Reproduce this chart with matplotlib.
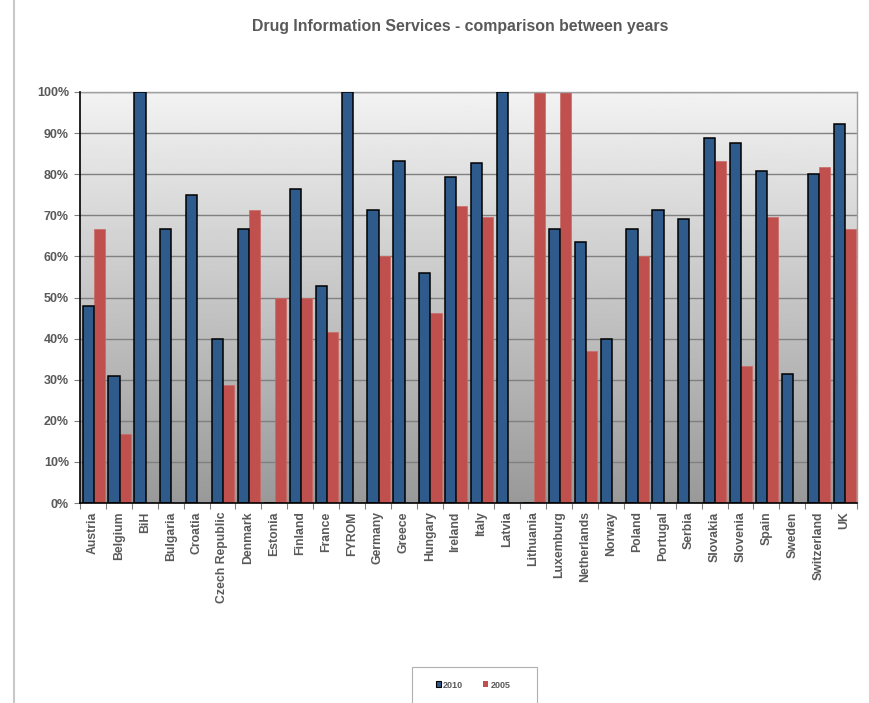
import numpy as np
import matplotlib
matplotlib.use("Agg")
import matplotlib.pyplot as plt
from matplotlib.patches import Rectangle, Patch
from matplotlib.lines import Line2D

countries = ["Austria", "Belgium", "BiH", "Bulgaria", "Croatia", "Czech Republic",
             "Denmark", "Estonia", "Finland", "France", "FYROM", "Germany", "Greece",
             "Hungary", "Ireland", "Italy", "Latvia", "Lithuania", "Luxemburg",
             "Netherlands", "Norway", "Poland", "Portugal", "Serbia", "Slovakia",
             "Slovenia", "Spain", "Sweden", "Switzerland", "UK"]
values_2010 = [48.0, 30.8, 100, 66.7, 75.0, 40.0, 66.7, 0, 76.5, 52.9, 100, 71.4,
               83.3, 55.9, 79.2, 82.8, 100, 0, 66.7, 63.6, 40.0, 66.7, 71.4, 69.2,
               88.7, 87.5, 80.8, 31.3, 80.0, 92.3]
values_2005 = [66.7, 16.7, 0, 0, 0, 28.6, 71.4, 50.0, 50.0, 41.7, 0, 60.0, 0,
               46.2, 72.2, 69.6, 0, 100, 100, 36.9, 0, 60.0, 0, 0, 83.3, 33.3,
               69.6, 0, 81.8, 66.7]
series_names = ["2010", "2005"]
yticks = list(range(0, 101, 10))

plt.rcParams['font.family'] = ['Liberation Sans', 'DejaVu Sans']

W, H = 869, 703
fig = plt.figure(figsize=(W / 100, H / 100), dpi=100)
fig.patch.set_facecolor('white')

x0, x1, yb, yt = 80, 857, 503, 92
ax = fig.add_axes([x0 / W, 1 - yb / H, (x1 - x0) / W, (yb - yt) / H])

n = len(countries)
x = np.arange(n)
bw = 0.43
blue = '#2E5B8C'
red = '#C0504D'
txt = '#595959'

# gradient background
grad = np.linspace(0.60, 0.95, 256).reshape(-1, 1)
ax.imshow(grad, extent=(-0.5, n - 0.5, 0, 100), origin='lower', aspect='auto',
          cmap='gray', vmin=0, vmax=1, zorder=0)

for v in yticks[1:]:
    ax.axhline(v, color='#808080', lw=1.0, zorder=1)

ax.bar(x - bw / 2 + 0.03, values_2010, width=bw, color=blue, edgecolor='black',
       linewidth=1.1, zorder=3)
ax.bar(x + bw / 2 + 0.03, values_2005, width=bw, color=red, edgecolor='#cc6a67',
       linewidth=0.5, zorder=2)

ax.set_xlim(-0.5, n - 0.5)
ax.set_ylim(0, 100)
ax.set_yticks(yticks)
ax.set_yticklabels([f"{v}%" for v in yticks], fontsize=9, fontweight='bold', color=txt)
ax.set_xticks(x)
ax.set_xticklabels(countries, rotation=90, fontsize=8.8, fontweight='bold', color=txt)
ax.set_xticks(np.arange(-0.5, n, 1), minor=True)
ax.tick_params(axis='x', which='major', length=0, pad=6)
ax.tick_params(axis='x', which='minor', length=4, color='#808080', width=0.8)
ax.tick_params(axis='y', length=4, color='#808080', width=0.8, pad=4)

for s in ['left', 'bottom']:
    ax.spines[s].set_color('black')
    ax.spines[s].set_linewidth(1.2)
    ax.spines[s].set_zorder(5)
for s in ['top', 'right']:
    ax.spines[s].set_color('#a0a0a0')
    ax.spines[s].set_linewidth(1.0)

fig.text(460 / W, 1 - 27 / H, "Drug Information Services - comparison between years",
         ha='center', va='center', fontsize=11.4, fontweight='bold', color=txt)

# outer border line on left
fig.add_artist(Line2D([14.5 / W, 14.5 / W], [0, 1], color='#c8c8c8', lw=1.5))

# legend box
fig.add_artist(Rectangle((412 / W, -0.02), 125 / W, (703 - 667) / H + 0.02,
                         transform=fig.transFigure, facecolor='white',
                         edgecolor='#b0b0b0', lw=0.8))
handles = [Patch(facecolor=blue, edgecolor='black', linewidth=0.8),
           Patch(facecolor=red, edgecolor='none')]
leg = fig.legend(handles, series_names, loc='center', bbox_to_anchor=(473 / W, 1 - 685 / H),
                 ncol=2, frameon=False, handlelength=0.6, handleheight=0.6,
                 handletextpad=0.2, columnspacing=2.2,
                 prop={'size': 6.5, 'weight': 'bold'})
for t in leg.get_texts():
    t.set_color(txt)

fig.savefig("out.png", dpi=100, facecolor='white')
